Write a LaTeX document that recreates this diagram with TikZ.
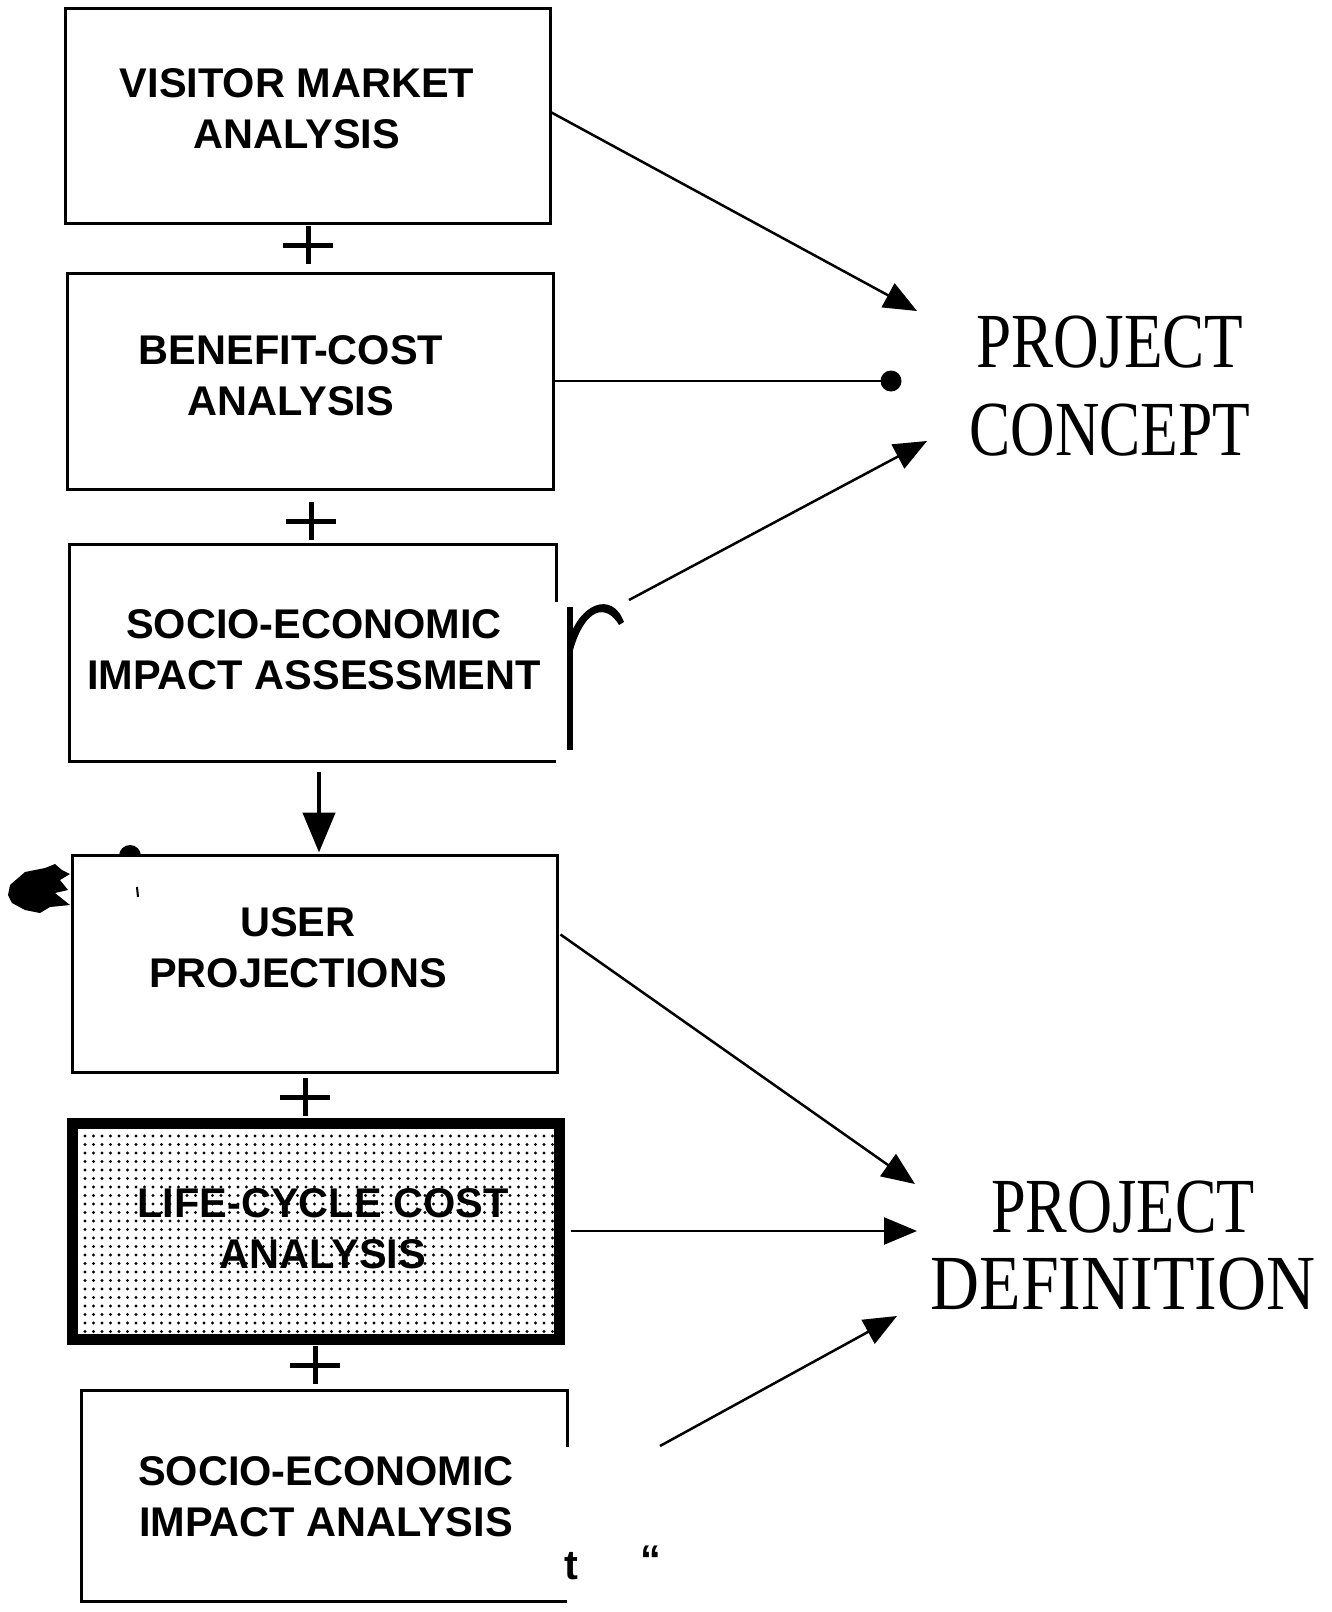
\documentclass[tikz,border=0pt]{standalone}
\usepackage{fontspec}
\usepackage{graphicx}
\setmainfont{Liberation Serif}
\setsansfont{Liberation Sans}
\usetikzlibrary{arrows.meta,patterns.meta,calc}

\begin{document}
\begin{tikzpicture}[x=1pt,y=-1pt,
  box/.style={draw,line width=3pt,inner sep=0pt},
  frame/.style={inner sep=0pt},
  edge/.style={line width=3pt},
  lbl/.style={font=\fontsize{41.5}{51}\selectfont\sffamily\bfseries,align=center,inner sep=0pt},
  goal/.style={font=\fontsize{78}{88}\selectfont\rmfamily,align=center,inner sep=0pt},
  link/.style={line width=2.5pt,-{Triangle[length=33pt,width=27pt]}},
  plussign/.pic={\draw[line width=5pt] (-25,0) -- (25,0) (0,-19) -- (0,19);},
]
\useasboundingbox (0,0) rectangle (1331,1612);

% ---- boxes of the planning chain ----
\node[box,minimum width=485pt,minimum height=215pt] (b1) at (307.5,115.5) {};
\node[box,minimum width=486pt,minimum height=216pt] (b2) at (310,381) {};
\node[frame,minimum width=486pt,minimum height=216pt] (b3) at (313,653) {};
\draw[edge] (b3.north east) ++(0,57) -- (b3.north east) -- (b3.north west)
  -- (b3.south west) -- (b3.south east);
\node[box,minimum width=485pt,minimum height=217pt] (b4) at (314.5,963.5) {};
\node[draw,line width=11pt,inner sep=0pt,minimum width=487pt,minimum height=216pt,
  fill=white,pattern={Dots[distance=8.5pt,radius=1.6pt]}] (b5) at (315.5,1231) {};
\node[frame,minimum width=485pt,minimum height=210pt] (b6) at (324.5,1496) {};
\draw[edge] (b6.north east) ++(0,56) -- (b6.north east) -- (b6.north west)
  -- (b6.south west) -- (b6.south east);

% ---- box labels ----
\node[lbl] (t1) at (297,109) {VISITOR MARKET\\ANALYSIS};
\node[lbl] (t2) at (291,376) {BENEFIT-COST\\ANALYSIS};
\node[lbl] (t3) at (314,650) {SOCIO-ECONOMIC\\IMPACT ASSESSMENT};
\node[lbl] (t4) at (298,948) {USER\\PROJECTIONS};
\node[lbl] (t5) at (323,1229) {LIFE-CYCLE COST\\ANALYSIS};
\node[lbl] (t6) at (326,1497) {SOCIO-ECONOMIC\\IMPACT ANALYSIS};
\node[lbl] (tt) at (571,1566) {t};
\node[lbl] (tq) at (651,1560) {“};

% ---- plus signs between boxes ----
\pic at (308,245) {plussign};
\pic at (311,521) {plussign};
\pic at (305,1097) {plussign};
\pic at (315,1365) {plussign};

% ---- bracket beside the assessment box ----
\fill (567,607) rectangle (573,750);
\fill (567,645) .. controls (578,603) and (612,590) .. (624,622)
  -- (619,625) .. controls (606,603) and (585,608) .. (573,650) -- cycle;

% ---- goals ----
\node[goal] (pc) at (1110,386) {\scalebox{0.81}[1]{PROJECT}\\\scalebox{0.79}[1]{CONCEPT}};
\node[goal,font=\fontsize{78}{77}\selectfont\rmfamily] (pd) at (1123,1246)
  {\scalebox{0.80}[1]{PROJECT}\\\scalebox{0.87}[1]{DEFINITION}};

% ---- connectors ----
\coordinate (pc1) at (917,311);
\coordinate (pc2) at (891,381);
\coordinate (pc3) at (927,441);
\coordinate (b3out) at (629,600);
\coordinate (pd1) at (915,1184);
\coordinate (pd2) at (917,1231);
\coordinate (pd3) at (897,1316);
\coordinate (b6out) at (660,1446);

\draw[link] ($(b1.east)+(0,-3)$) -- (pc1);
\draw[line width=2.5pt] (b2.east) -- (pc2);
\fill (pc2) circle (10.5);
\draw[link] (b3out) -- (pc3);
\draw[link] ($(b4.east)+(2,-29)$) -- (pd1);
\draw[link] ($(b5.east)+(6,0)$) -- (pd2);
\draw[link] (b6out) -- (pd3);

\draw[line width=4.5pt,-{Triangle[length=40pt,width=32pt]}]
  ($(b3.south)+(6,11)$) -- ($(b4.north)+(4.5,-1)$);

% ---- ink marks near the projections box ----
\fill (10,885) -- (25,872) -- (45,868) -- (55,864) -- (62,870) -- (70,874)
  -- (60,880) -- (68,890) -- (55,893) -- (70,905) -- (50,907) -- (40,913)
  -- (25,910) -- (12,903) -- (8,895) -- cycle;
\fill (119,856) arc[start angle=180,end angle=360,radius=11] -- cycle;
\draw[line width=2pt] (137,887) -- (138,897);
\end{tikzpicture}
\end{document}
